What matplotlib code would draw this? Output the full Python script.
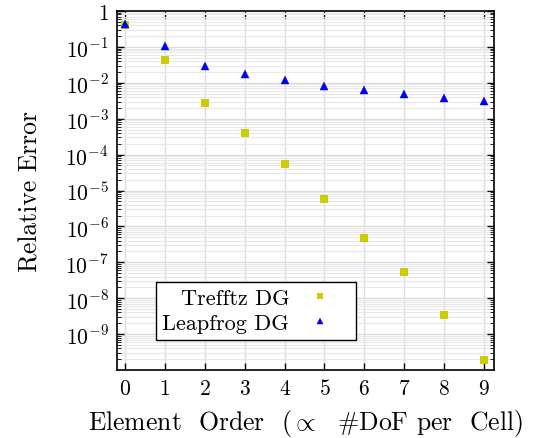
import matplotlib
matplotlib.use("Agg")
import matplotlib.pyplot as plt
from matplotlib.ticker import LogLocator, NullFormatter

plt.rcParams['font.family'] = 'serif'
plt.rcParams['font.serif'] = ['cmr10', 'DejaVu Serif']
plt.rcParams['mathtext.fontset'] = 'cm'
plt.rcParams['axes.formatter.use_mathtext'] = True
plt.rcParams['axes.unicode_minus'] = False

order = [0, 1, 2, 3, 4, 5, 6, 7, 8, 9]
trefftz = [0.41, 0.042, 0.0028, 3.9e-4, 5.4e-5, 5.8e-6, 4.9e-7, 5.3e-8, 3.4e-9, 1.9e-10]
leapfrog = [0.44, 0.104, 0.029, 0.0175, 0.0119, 0.0084, 0.0063, 0.0049, 0.0038, 0.0032]
y_ticks = [1, 1e-1, 1e-2, 1e-3, 1e-4, 1e-5, 1e-6, 1e-7, 1e-8, 1e-9]
y_ticklabels = ['1', r'$10^{-1}$', r'$10^{-2}$', r'$10^{-3}$', r'$10^{-4}$', r'$10^{-5}$',
                r'$10^{-6}$', r'$10^{-7}$', r'$10^{-8}$', r'$10^{-9}$']

fig = plt.figure(figsize=(5.35, 4.39), dpi=100)
ax = fig.add_axes([117/535, 1 - 371/439, (494-117)/535, (371-12)/439])

ax.plot(order, trefftz, linestyle='none', marker='s', markersize=5.5, color='#cccc00',
        markeredgewidth=0, label='Trefftz DG', zorder=3)
ax.plot(order, leapfrog, linestyle='none', marker='^', markersize=5.5, color='#0000ee',
        markeredgewidth=0.3, label='Leapfrog DG', zorder=3)

ax.set_yscale('log')
ax.set_ylim(1e-10, 1)
ax.set_xlim(-0.2, 9.25)
ax.set_xticks(order)
ax.set_yticks(y_ticks)
ax.set_yticklabels(y_ticklabels)
ax.yaxis.set_minor_locator(LogLocator(base=10, subs=range(2, 10), numticks=50))
ax.yaxis.set_minor_formatter(NullFormatter())

ax.grid(True, which='major', color='#dddddd', linewidth=1.0, zorder=0)
ax.grid(True, which='minor', axis='y', color='#e8e8e8', linewidth=0.8, zorder=0)
ax.set_axisbelow(True)

ax.tick_params(which='both', direction='in', top=True, right=True, labelsize=15.5)
ax.tick_params(which='major', length=5, width=1, pad=6)
ax.tick_params(which='minor', length=3, width=0.6)
for s in ax.spines.values():
    s.set_linewidth(1.2)

ax.set_ylabel('Relative Error', fontsize=18.5, labelpad=16)
ax.set_xlabel(r'Element  Order  ($\propto$  #DoF per  Cell)', fontsize=18.5, labelpad=6)

leg = ax.legend(loc='lower left', bbox_to_anchor=(0.103, 0.084), markerfirst=False,
                fancybox=False, framealpha=1, edgecolor='black', fontsize=16,
                handlelength=2.6, handletextpad=0.1, borderpad=0.3, labelspacing=0.25,
                borderaxespad=0, markerscale=0.85)
leg.get_frame().set_linewidth(1.0)

fig.savefig('out.png', dpi=100)
